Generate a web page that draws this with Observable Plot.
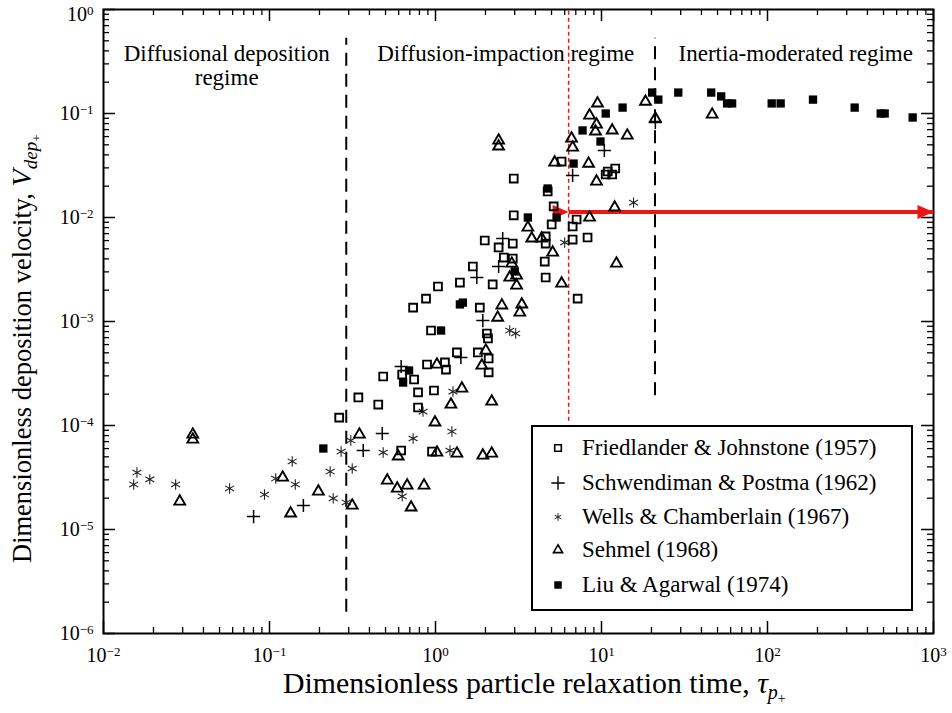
<!DOCTYPE html>
<html><head><meta charset="utf-8">
<script src="https://cdn.jsdelivr.net/npm/d3@7"></script>
<script src="https://cdn.jsdelivr.net/npm/@observablehq/plot@0.6"></script>
<style>
body{margin:0;background:#fff;}
#wrap{position:relative;width:952px;height:713px;font-family:"Liberation Serif","Times New Roman",serif;color:#000;}
#legend{position:absolute;left:531px;top:425px;width:378px;height:182px;border:2px solid #000;background:#fff;}
.row{position:absolute;left:0;height:26px;line-height:26px;font-size:23px;white-space:nowrap;}
.row svg{position:absolute;left:14px;top:2px;}
.row span{position:absolute;left:49px;top:0;}
</style></head><body><div id="wrap"></div><script>
// ---- data (tau+, Vdep+) ----
const friedlander = [[0.263,1.19e-4],[0.343,1.86e-4],[0.452,1.59e-4],[0.484,2.96e-4],[0.630,3.09e-4],[0.743,2.77e-4],[0.785,2.08e-4],[0.979,2.17e-4],[0.785,1.49e-4],[0.621,5.75e-5],[0.953,5.62e-5],[0.889,3.86e-4],[1.14,4.04e-4],[1.156,3.45e-4],[0.733,1.36e-3],[0.877,1.66e-3],[1.035,2.17e-3],[0.94,8.19e-4],[1.346,5.04e-4],[1.799,5.04e-4],[2.09,4.41e-4],[2.09,3.24e-4],[2.04,7.67e-4],[2.07,6.87e-4],[1.403,2.37e-3],[1.679,3.38e-3],[2.21,2.27e-3],[1.849,1.36e-3],[1.98,6.01e-3],[2.40,5.15e-3],[2.92,5.62e-3],[2.58,4.12e-3],[2.92,4.03e-3],[2.96,1.05e-2],[2.96,2.37e-2],[4.61,6.57e-3],[4.61,5.62e-3],[4.55,3.77e-3],[4.61,2.65e-3],[5.01,8.57e-3],[5.15,1.28e-2],[4.74,1.78e-2],[6.70,6.14e-3],[8.24,6.42e-3],[7.08,9.57e-3],[6.70,8.19e-3],[7.18,1.66e-3],[5.75,3.45e-2],[10.9,2.77e-2],[12.1,2.96e-2],[11.6,2.59e-2],[10.6,2.59e-2]];
const schwendiman = [[0.0802,1.33e-5],[0.160,1.70e-5],[0.367,5.75e-5],[0.478,8.37e-5],[0.621,3.69e-4],[1.422,4.51e-4],[1.774,2.65e-3],[1.928,1.02e-3],[2.40,3.38e-3],[2.54,6.29e-3],[6.70,2.54e-2],[10.4,4.41e-2],[21.1,8.19e-2]];
const wells = [[0.0159,3.53e-5],[0.0152,2.71e-5],[0.019,3.03e-5],[0.0272,2.71e-5],[0.0575,2.48e-5],[0.0933,2.17e-5],[0.137,4.51e-5],[0.109,3.09e-5],[0.143,2.71e-5],[0.232,3.61e-5],[0.270,5.62e-5],[0.242,1.99e-5],[0.290,1.82e-5],[0.315,3.86e-5],[0.309,7.17e-5],[0.484,5.50e-5],[0.733,7.50e-5],[1.256,8.75e-5],[1.222,5.75e-5],[0.630,2.08e-5],[1.274,2.12e-4],[0.841,1.36e-4],[6.00,5.75e-3],[15.6,1.39e-2],[2.80,8.19e-4],[3.04,7.67e-4]];
const sehmel = [[0.0345,8.19e-5],[0.0345,7.33e-5],[0.0288,1.86e-5],[0.120,3.16e-5],[0.134,1.43e-5],[0.197,2.32e-5],[0.315,1.70e-5],[0.348,8.19e-5],[0.993,1.07e-4],[1.239,1.59e-4],[2.18,1.70e-4],[0.596,5.04e-5],[1.02,5.50e-5],[1.346,5.38e-5],[1.928,5.15e-5],[2.18,5.38e-5],[0.512,2.96e-5],[0.588,2.48e-5],[0.675,2.65e-5],[0.853,2.65e-5],[0.713,1.63e-5],[2.37,1.09e-3],[2.01,5.26e-4],[1.901,3.77e-4],[1.02,3.86e-4],[1.442,2.27e-4],[2.40,5.50e-2],[2.40,4.82e-2],[3.60,8.01e-3],[3.80,6.29e-3],[4.36,6.29e-3],[2.88,3.61e-3],[5.08,4.61e-3],[3.08,2.77e-3],[2.80,2.65e-3],[3.08,2.22e-3],[5.75,2.32e-3],[2.51,1.43e-3],[3.31,1.46e-3],[3.22,1.22e-3],[12.0,1.25e-2],[12.3,3.61e-3],[9.33,7.84e-2],[9.20,6.72e-2],[11.6,6.87e-2],[14.3,6.14e-2],[6.60,5.75e-2],[6.70,4.71e-2],[5.22,3.38e-2],[8.36,3.30e-2],[9.33,2.22e-2],[8.47,1.00e-2],[18.4,0.130],[46.4,9.77e-2],[21.1,8.95e-2],[9.46,0.125],[8.47,9.57e-2]];
const liu = [[0.211,6.01e-5],[1.08,8.19e-4],[1.403,1.46e-3],[1.462,1.52e-3],[0.693,3.38e-4],[0.638,2.59e-4],[3.00,3.03e-3],[3.60,1.00e-2],[5.37,1.00e-2],[4.74,1.90e-2],[6.79,3.30e-2],[7.69,6.87e-2],[9.86,5.38e-2],[10.6,0.100],[13.4,0.114],[20.2,0.159],[22.0,0.136],[29.0,0.159],[45.8,0.159],[52.6,0.146],[57.1,0.125],[61.2,0.125],[106,0.125],[120,0.125],[188,0.136],[335,0.114],[481,0.100],[508,0.100],[749,0.0916]];

const seriesNames = ["Friedlander & Johnstone (1957)","Schwendiman & Postma (1962)","Wells & Chamberlain (1967)","Sehmel (1968)","Liu & Agarwal (1974)"];
const majorX = [1e-2,1e-1,1e0,1e1,1e2,1e3];
const majorY = [1e-6,1e-5,1e-4,1e-3,1e-2,1e-1,1];
const minorMult = [2,3,4,5,6,7,8,9];
const regimeLabels = ["Diffusional deposition\nregime","Diffusion-impaction regime","Inertia-moderated regime"];
const regimeX = [0.0552, 2.65, 148];
const boundaryX = [0.29, 21];        // regime boundaries (dashed)
const boundaryTop = [0.53, 0.53];
const boundaryBottom = [1.6e-6, 1.93e-4];
const redLineX = 6.34, redLineBottom = 1.1e-4;
const arrowY = 0.0113, arrowEnd = 1000;

// ---- build ----
const rows = (arr) => arr.map(([x,y]) => ({x,y}));
const minorX = majorX.slice(0,-1).flatMap(d => minorMult.map(k => k*d));
const minorY = majorY.slice(0,-1).flatMap(d => minorMult.map(k => k*d));
const boundaries = boundaryX.map((x,i) => ({x, y1: boundaryBottom[i], y2: boundaryTop[i]}));
const regimes = regimeLabels.map((t,i) => ({t, x: regimeX[i]}));
const RED = "#ee1515";
const W=952,H=713,mL=103,mR=19,mT=9,mB=80;
const iW=W-mL-mR, iH=H-mT-mB;
const fmt = d => "10^" + Math.round(Math.log10(d));
const FONT = '"Liberation Serif","Times New Roman",serif';

const chart = Plot.plot({
  width: W, height: H, marginLeft: mL, marginRight: mR, marginTop: mT, marginBottom: mB,
  style: {fontFamily: FONT, fontSize: "20px", color: "black", background: "white", overflow: "visible"},
  x: {type: "log", domain: [1e-2, 1e3]},
  y: {type: "log", domain: [1e-6, 1]},
  marks: [
    // ticks (inward, mirrored)
    Plot.ruleX(minorX, {insetTop: iH-6, strokeWidth: 1.3}),
    Plot.ruleX(minorX, {insetBottom: iH-6, strokeWidth: 1.3}),
    Plot.ruleX(majorX, {insetTop: iH-12, strokeWidth: 1.5}),
    Plot.ruleX(majorX, {insetBottom: iH-12, strokeWidth: 1.5}),
    Plot.ruleY(minorY, {insetRight: iW-6, strokeWidth: 1.3}),
    Plot.ruleY(minorY, {insetLeft: iW-6, strokeWidth: 1.3}),
    Plot.ruleY(majorY, {insetRight: iW-12, strokeWidth: 1.5}),
    Plot.ruleY(majorY, {insetLeft: iW-12, strokeWidth: 1.5}),
    Plot.frame({stroke: "black", strokeWidth: 2}),
    Plot.axisX({ticks: majorX, tickSize: 0, tickPadding: 14, tickFormat: fmt, label: null, fontFamily: FONT, fontSize: 20}),
    Plot.axisY({ticks: majorY, tickSize: 0, tickPadding: 10, tickFormat: fmt, label: null, fontFamily: FONT, fontSize: 20}),
    // regime boundaries
    Plot.ruleX(boundaries, {x: "x", y1: "y1", y2: "y2", stroke: "black", strokeWidth: 2, strokeDasharray: "13,8"}),
    Plot.ruleX([redLineX], {y1: redLineBottom, y2: 1, stroke: RED, strokeWidth: 1.5, strokeDasharray: "4,3"}),
    Plot.link([{x1: redLineX, x2: arrowEnd, y: arrowY}], {x1: "x1", x2: "x2", y1: "y", y2: "y", stroke: RED, strokeWidth: 4, markerStart: "arrow", markerEnd: "arrow"}),
    Plot.text(regimes, {x: "x", text: "t", frameAnchor: "top", lineAnchor: "top", dy: 34, fontSize: 23, lineHeight: 1.05, fontFamily: FONT}),
    // data
    Plot.dot(rows(wells), {x: "x", y: "y", symbol: "asterisk", r: 4.9, stroke: "#222", strokeWidth: 1.1}),
    Plot.dot(rows(schwendiman), {x: "x", y: "y", symbol: "plus", r: 4.3, stroke: "black", strokeWidth: 1.5}),
    Plot.dot(rows(sehmel), {x: "x", y: "y", symbol: "triangle", r: 4.0, stroke: "black", strokeWidth: 1.9, fill: "none"}),
    Plot.dot(rows(friedlander), {x: "x", y: "y", symbol: "square", r: 4.4, stroke: "black", strokeWidth: 1.9, fill: "none"}),
    Plot.dot(rows(liu), {x: "x", y: "y", symbol: "square", r: 4.7, fill: "black"})
  ]
});
chart.setAttribute("font-family", FONT);

// superscript tick labels
chart.querySelectorAll('g[aria-label$="tick label"] text').forEach(t => {
  const s = t.textContent;
  if (!s.startsWith("10^")) return;
  const e = s.slice(3).replace("-", "\u2212");
  t.textContent = "";
  const ns = "http://www.w3.org/2000/svg";
  const a = document.createElementNS(ns, "tspan"); a.textContent = "10"; t.appendChild(a);
  const b = document.createElementNS(ns, "tspan"); b.textContent = e;
  b.setAttribute("font-size", "13"); b.setAttribute("dy", "-6"); t.appendChild(b);
  if (s === "10^0" && t.closest('g[aria-label^="y-axis"]')) t.setAttribute("dy", "5");
});
// filled arrow heads
chart.querySelectorAll("marker").forEach(m => {
  m.setAttribute("overflow", "visible");
  const p = m.querySelector("path");
  if (p) { p.setAttribute("d", "M-6,-2.6L0,0L-6,2.6Z"); p.setAttribute("fill", RED); p.setAttribute("stroke", "none"); }
});
// axis titles
const svg = d3.select(chart);
const xt = svg.append("text").attr("x", 283).attr("y", 693).attr("font-size", 29.8).attr("fill", "black").attr("text-anchor", "start").attr("font-family", FONT);
xt.append("tspan").text("Dimensionless particle relaxation time, ");
xt.append("tspan").attr("font-style", "italic").text("\u03c4");
xt.append("tspan").attr("font-style", "italic").attr("font-size", 20).attr("dy", 6).text("p");
xt.append("tspan").attr("font-size", 14).attr("dy", 4).text("+");
const yt = svg.append("text").attr("transform", "translate(31,563) rotate(-90)").attr("font-size", 26.5).attr("fill", "black").attr("text-anchor", "start").attr("font-family", FONT);
yt.append("tspan").text("Dimensionless deposition velocity, ");
yt.append("tspan").attr("font-style", "italic").attr("font-size", 28).text("V");
yt.append("tspan").attr("font-style", "italic").attr("font-size", 19).attr("dy", 6).text("dep");
yt.append("tspan").attr("font-size", 13).attr("dy", 4).text("+");

const wrap = document.getElementById("wrap");
wrap.appendChild(chart);

// legend
const legendSymbols = [
  {sym: d3.symbolSquare, size: 44, fill: "none", stroke: "black", sw: 1.6},
  {sym: d3.symbolPlus, size: 60, fill: "none", stroke: "black", sw: 1.4},
  {sym: d3.symbolAsterisk, size: 40, fill: "none", stroke: "#222", sw: 1},
  {sym: d3.symbolTriangle, size: 36, fill: "none", stroke: "black", sw: 1.6},
  {sym: d3.symbolSquare, size: 56, fill: "black", stroke: "none", sw: 0}
];
const rowCenters = [21, 56, 90, 123, 158];
const leg = document.createElement("div"); leg.id = "legend"; wrap.appendChild(leg);
seriesNames.forEach((name, i) => {
  const r = document.createElement("div"); r.className = "row";
  r.style.top = (rowCenters[i] - 13) + "px";
  const s = legendSymbols[i];
  r.innerHTML = `<svg width="22" height="22" viewBox="-11 -11 22 22"><path d="${d3.symbol(s.sym, s.size)()}" fill="${s.fill}" stroke="${s.stroke}" stroke-width="${s.sw}"/></svg><span></span>`;
  r.querySelector("span").textContent = name;
  leg.appendChild(r);
});
</script></body></html>
